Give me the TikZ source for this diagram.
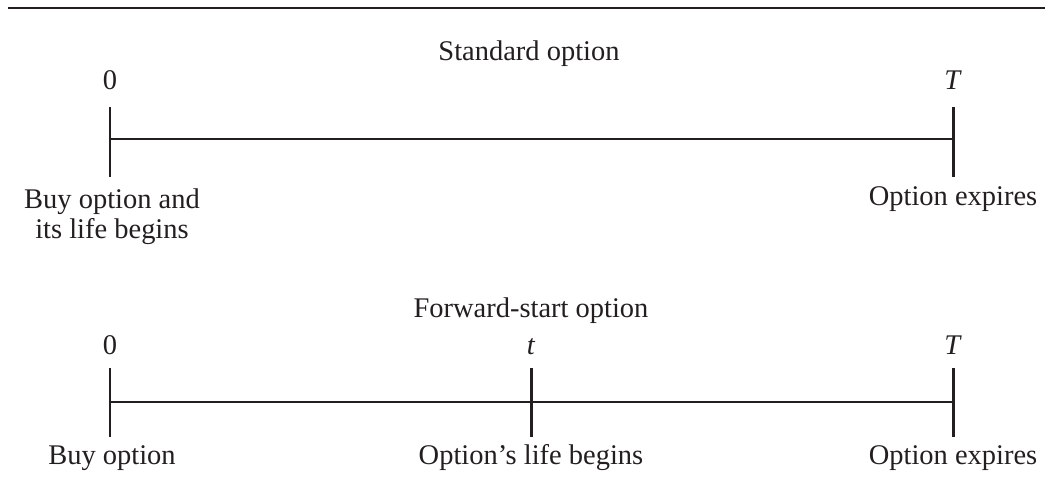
\documentclass[tikz,border=0pt]{standalone}
\usepackage{fontspec}
\setmainfont{Liberation Serif}
\usepackage{tikz}
\definecolor{ink}{HTML}{231F20}

\tikzset{
  tickmark/.style={line width=0.85pt},
  timeline/.style={line width=0.6pt},
  lbl/.style={anchor=base,inner sep=0pt},
}

\begin{document}
\begin{tikzpicture}[color=ink,font=\fontsize{8.1}{6.6}\selectfont]
  \useasboundingbox (0,0) rectangle (10.45,4.95);
  \draw[line width=0.75pt] (0.08,4.87) -- (10.45,4.87);

  % standard option
  \node[lbl] (stitle) at (5.29,4.34) {Standard option};
  \coordinate (s0) at (1.10,3.56);
  \coordinate (sT) at (9.53,3.56);
  \coordinate (s0top) at (1.10,3.88);
  \coordinate (s0bot) at (1.10,3.18);
  \coordinate (sTtop) at (9.53,3.88);
  \coordinate (sTbot) at (9.53,3.18);
  \draw[timeline] (s0) -- (sT);
  \draw[tickmark] (s0top) -- (s0bot);
  \draw[tickmark] (sTtop) -- (sTbot);
  \node[lbl] (s0lbl) at (1.10,4.05) {0};
  \node[lbl] (sTlbl) at (9.53,4.05) {\textit{T}};
  \node[align=center,inner sep=0pt] (sbuy) at (1.12,2.78) {Buy option and\\its life begins};
  \node[lbl] (sexp) at (9.53,2.89) {Option expires};

  % forward-start option
  \node[lbl] (ftitle) at (5.31,1.77) {Forward-start option};
  \coordinate (f0) at (1.10,0.93);
  \coordinate (ft) at (5.31,0.93);
  \coordinate (fT) at (9.53,0.93);
  \coordinate (f0top) at (1.10,1.27);
  \coordinate (f0bot) at (1.10,0.58);
  \coordinate (fttop) at (5.31,1.27);
  \coordinate (ftbot) at (5.31,0.58);
  \coordinate (fTtop) at (9.53,1.27);
  \coordinate (fTbot) at (9.53,0.58);
  \draw[timeline] (f0) -- (ft) -- (fT);
  \draw[tickmark] (f0top) -- (f0bot);
  \draw[tickmark] (fttop) -- (ftbot);
  \draw[tickmark] (fTtop) -- (fTbot);
  \node[lbl] (f0lbl) at (1.10,1.40) {0};
  \node[lbl] (ftlbl) at (5.31,1.40) {\textit{t}};
  \node[lbl] (fTlbl) at (9.53,1.40) {\textit{T}};
  \node[lbl] (fbuy) at (1.12,0.30) {Buy option};
  \node[lbl] (flife) at (5.31,0.30) {Option’s life begins};
  \node[lbl] (fexp) at (9.53,0.30) {Option expires};
\end{tikzpicture}
\end{document}
